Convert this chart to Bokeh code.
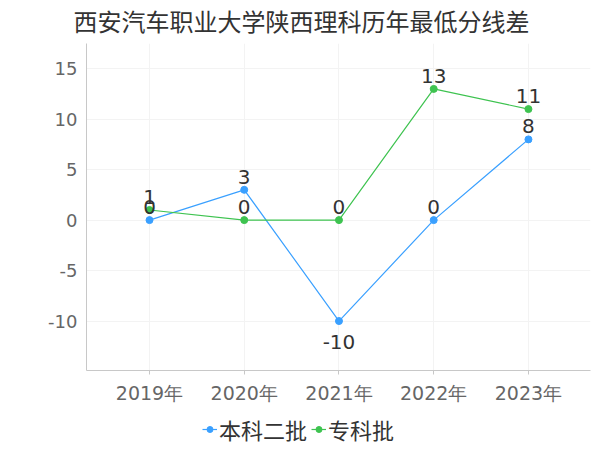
from bokeh.plotting import figure
from bokeh.layouts import column
from bokeh.models import FixedTicker, Range1d, Legend, LegendItem, ColumnDataSource
from bokeh.embed import file_html
from bokeh.resources import INLINE
from bokeh.core.properties import value

title = "西安汽车职业大学陕西理科历年最低分线差"
years = ["2019年", "2020年", "2021年", "2022年", "2023年"]
series_names = ["本科二批", "专科批"]
benke = [0, 3, -10, 0, 8]
zhuanke = [1, 0, 0, 13, 11]
y_ticks = [-10, -5, 0, 5, 10, 15]

colors = ["#3aa0ff", "#3ec350"]
FONT = "DejaVu Sans"

def blank(height):
    f = figure(width=592, height=height, output_backend="svg", toolbar_location=None,
               x_range=Range1d(0, 1), y_range=Range1d(1000, 1001),
               x_axis_location=None, y_axis_location=None,
               min_border_left=0, min_border_right=0, min_border_top=0, min_border_bottom=0)
    f.outline_line_color = None
    f.xgrid.visible = False
    f.ygrid.visible = False
    return f

# title figure
tf = blank(43)
tf.title.text = title
tf.title.align = "left"
tf.title.offset = -13
tf.title.standoff = 0
tf.title.text_font_size = "24px"
tf.title.text_font = "Noto Sans CJK SC"
tf.title.text_font_style = "normal"
tf.title.text_color = "#333333"

p = figure(width=592, height=367, output_backend="svg", toolbar_location=None, title=None,
           x_range=Range1d(-0.665, 4.655), y_range=Range1d(-14.9, 17.5),
           min_border_left=86, min_border_right=2, min_border_top=0, min_border_bottom=40)
p.outline_line_color = None
p.background_fill_color = "white"

xs = list(range(len(years)))
for name, vals, c in zip(series_names, [benke, zhuanke], colors):
    src = ColumnDataSource(dict(x=xs, y=vals))
    p.line("x", "y", source=src, line_color=c, line_width=1.2)
    p.scatter("x", "y", source=src, size=7, fill_color=c, line_color=c)

# labels
pos_idx = [i for i, v in enumerate(benke) if v >= 0]
neg_idx = [i for i, v in enumerate(benke) if v < 0]
src_bp = ColumnDataSource(dict(x=[xs[i] for i in pos_idx], y=[benke[i] for i in pos_idx], t=[str(benke[i]) for i in pos_idx]))
src_bn = ColumnDataSource(dict(x=[xs[i] for i in neg_idx], y=[benke[i] for i in neg_idx], t=[str(benke[i]) for i in neg_idx]))
src_z = ColumnDataSource(dict(x=xs, y=zhuanke, t=[str(v) for v in zhuanke]))
for src, base, off in [(src_bp, "bottom", -6), (src_z, "bottom", -6), (src_bn, "top", 14)]:
    p.text("x", "y", text="t", source=src, text_align="center", text_baseline=base,
           y_offset=off, text_font=value(FONT), text_font_size="20px", text_color="#333333")

p.xaxis.ticker = FixedTicker(ticks=xs)
p.xaxis.major_label_overrides = {i: y for i, y in enumerate(years)}
p.yaxis.ticker = FixedTicker(ticks=y_ticks)
p.yaxis.major_label_overrides = {v: str(v) for v in y_ticks}

for ax in [p.xaxis[0], p.yaxis[0]]:
    ax.axis_line_color = "#c8c8c8"
    ax.major_label_text_font = FONT
    ax.major_label_text_color = "#666666"
    ax.minor_tick_line_color = None
    ax.minor_tick_out = 0
    ax.minor_tick_in = 0
p.xaxis.major_label_text_font_size = "19px"
p.yaxis.major_label_text_font_size = "18px"
p.xaxis.major_tick_line_color = "#c8c8c8"
p.xaxis.major_tick_out = 4
p.xaxis.major_tick_in = 0
p.xaxis.major_label_standoff = 7
p.yaxis.major_tick_line_color = None
p.yaxis.major_tick_out = 0
p.yaxis.major_tick_in = 0
p.yaxis.major_label_standoff = 9

p.xgrid.ticker = FixedTicker(ticks=xs)
p.xgrid.grid_line_color = "#f3f3f3"
p.ygrid.ticker = FixedTicker(ticks=y_ticks)
p.ygrid.grid_line_color = "#f3f3f3"

# legend figure (same series, drawn outside its visible range so only the legend shows)
lf = blank(40)
items = []
for name, vals, c in zip(series_names, [benke, zhuanke], colors):
    src = ColumnDataSource(dict(x=xs, y=vals))
    l = lf.line("x", "y", source=src, line_color=c, line_width=1.2)
    s = lf.scatter("x", "y", source=src, size=7, fill_color=c, line_color=c)
    items.append(LegendItem(label=name, renderers=[l, s]))
leg = Legend(items=items, orientation="horizontal", location=(116, 5),
             label_text_font="Noto Sans CJK SC", label_text_font_size="22px",
             label_text_color="#333333", border_line_color=None, background_fill_alpha=0,
             glyph_width=15, glyph_height=20, label_standoff=2, spacing=4, padding=0, margin=0)
lf.add_layout(leg, "center")

layout = column(tf, p, lf, spacing=0)
open("out.html", "w").write(file_html(layout, INLINE))
